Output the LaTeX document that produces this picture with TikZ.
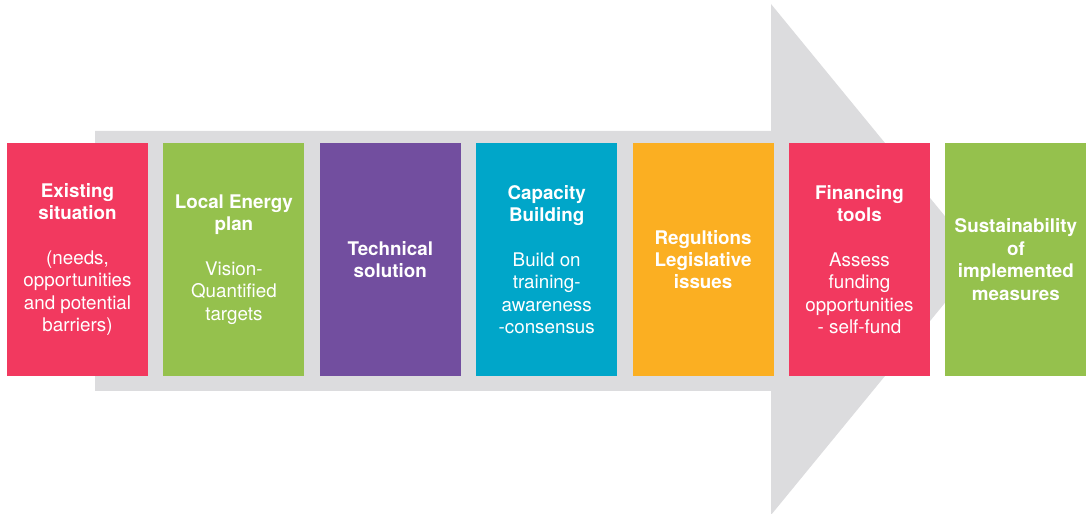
\documentclass[tikz,border=0pt]{standalone}
\usepackage{fontspec}
\setmainfont{TeX Gyre Heros}
\usetikzlibrary{positioning}

\definecolor{arrowgray}{HTML}{DCDCDE}
\definecolor{stepred}{HTML}{F2395F}
\definecolor{stepgreen}{HTML}{95C14D}
\definecolor{steppurple}{HTML}{724E9F}
\definecolor{stepcyan}{HTML}{00A6C9}
\definecolor{steporange}{HTML}{FBAF22}

\newcommand{\hd}[1]{\textbf{#1}}

\begin{document}
\begin{tikzpicture}[x=1pt, y=1pt, node distance=15pt,
	box/.style={minimum width=141pt, minimum height=233pt, inner sep=0pt, align=center, text=white, font=\fontsize{18.8}{22.4}\selectfont}]
	\useasboundingbox (0,0) rectangle (1088,514);
	% big grey arrow behind the steps
	\fill[arrowgray] (95,123) -- (771,123) -- (771,-1) -- (980.5,254.5) -- (771,510) -- (771,383) -- (95,383) -- cycle;

	\node[box, fill=stepred]                     (exist)  at (77.5,254.5) {\hd{Existing}\\\hd{situation}\\[22.4pt](needs,\\opportunities\\and potential\\barriers)};
	\node[box, fill=stepgreen,  right=of exist]  (plan)   {\hd{Local Energy}\\\hd{plan}\\[22.4pt]Vision-\\Quantified\\targets};
	\node[box, fill=steppurple, right=of plan]   (tech)   {\hd{Technical}\\\hd{solution}};
	\node[box, fill=stepcyan,   right=of tech]   (cap)    {\hd{Capacity}\\\hd{Building}\\[22.4pt]Build on\\training-\\awareness\\-consensus};
	\node[box, fill=steporange, right=of cap]    (regul)  {\hd{Regultions}\\\hd{Legislative}\\\hd{issues}};
	\node[box, fill=stepred,    right=of regul]  (fin)    {\hd{Financing}\\\hd{tools}\\[22.4pt]Assess\\funding\\opportunities\\- self-fund};
	\node[box, fill=stepgreen,  right=of fin]    (sust)   {\hd{Sustainability}\\\hd{of}\\\hd{implemented}\\\hd{measures}};
\end{tikzpicture}
\end{document}
